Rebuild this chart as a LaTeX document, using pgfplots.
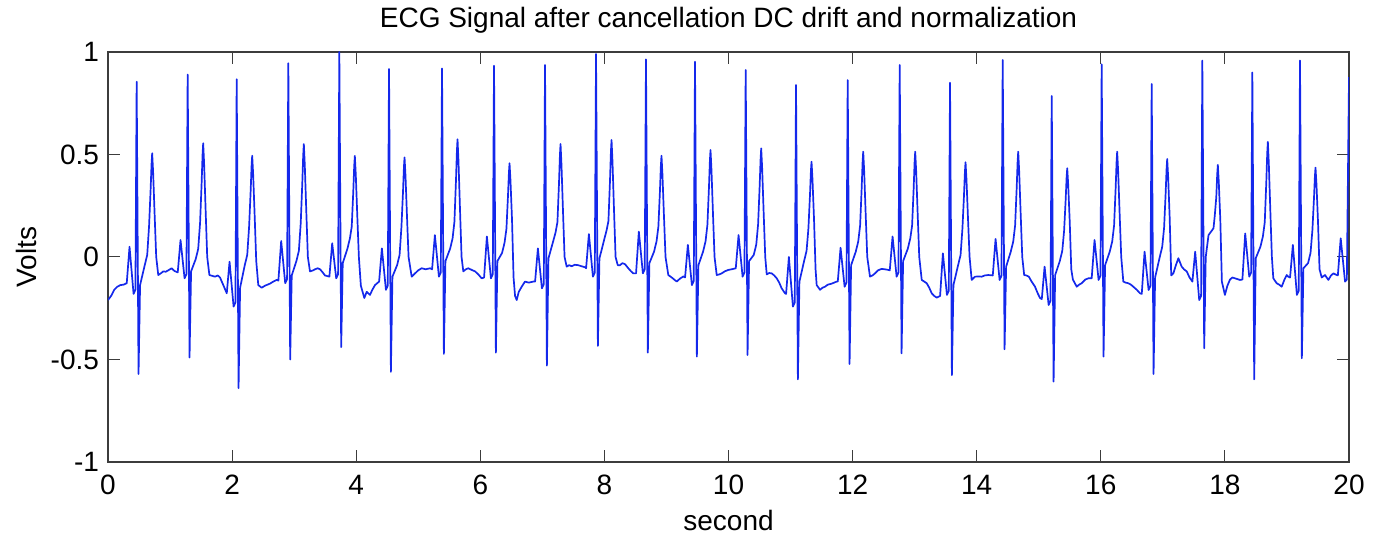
\documentclass[border=0pt]{standalone}
\usepackage{fontspec}
\setmainfont{Liberation Sans}
\usepackage{pgfplots}
\pgfplotsset{compat=1.18}
\definecolor{ecgblue}{RGB}{20,40,235}
\definecolor{axgray}{RGB}{60,60,60}
\begin{document}
\begin{tikzpicture}
\path[use as bounding box] (-54pt,-35.5pt) rectangle (633pt,231pt);
\begin{axis}[
  at={(0,0)}, anchor=south west,
  scale only axis, width=620.5pt, height=205pt,
  xmin=0, xmax=20, ymin=-1, ymax=1,
  xtick={0,2,4,6,8,10,12,14,16,18,20},
  xticklabels={0,2,4,6,8,10,12,14,16,18,20},
  ytick={-1,-0.5,0,0.5,1},
  yticklabels={-1,-0.5,0,0.5,1},
  tick align=inside, major tick length=6pt,
  axis line style={axgray, line width=0.6pt},
  every tick/.style={axgray, line width=0.5pt},
  tick label style={font=\fontsize{14}{16}\selectfont, black},
  xticklabel style={yshift=-3pt},
  yticklabel style={xshift=-1pt},
  every axis title shift=0pt,
  title={ECG Signal after cancellation DC drift and normalization},
  title style={font=\fontsize{14}{16}\selectfont, at={(axis description cs:0.5,1.078)}, anchor=center, yshift=0pt},
  xlabel={second},
  xlabel style={font=\fontsize{14}{16}\selectfont, at={(axis description cs:0.5,-0.1415)}, anchor=center},
  ylabel={Volts},
  ylabel style={font=\fontsize{14}{16}\selectfont, at={(axis description cs:-0.0653,0.5)}, anchor=center},
  clip=true,
]
\addplot[ecgblue, line width=0.85pt, line join=round] coordinates {
(0,-0.21) (0.05,-0.19) (0.1,-0.16) (0.15,-0.145) (0.2,-0.137) (0.25,-0.135) (0.302,-0.128)
(0.347,0.05) (0.412,-0.18) (0.442,-0.16) (0.462,0.855) (0.492,-0.571) (0.517,-0.137) (0.592,-0.04) (0.632,0.01) (0.662,0.152) (0.687,0.329) (0.702,0.455) (0.712,0.506) (0.727,0.415) (0.752,0.202) (0.777,0.0)
(0.81,-0.088) (0.85,-0.08) (0.892,-0.07) (0.93,-0.072) (0.972,-0.065) (1.026,-0.055) (1.07,-0.068) (1.124,-0.075)
(1.169,0.083) (1.234,-0.104) (1.264,-0.084) (1.284,0.89) (1.314,-0.49) (1.339,-0.07) (1.414,-0.01) (1.454,0.04) (1.484,0.167) (1.509,0.361) (1.524,0.5) (1.534,0.555) (1.549,0.455) (1.574,0.222) (1.599,0.0)
(1.634,-0.088) (1.68,-0.092) (1.724,-0.096) (1.77,-0.09) (1.805,-0.1) (1.858,-0.137) (1.914,-0.177)
(1.959,-0.023) (2.024,-0.242) (2.054,-0.222) (2.074,0.867) (2.104,-0.64) (2.129,-0.15) (2.204,-0.04) (2.244,0.01) (2.274,0.148) (2.299,0.321) (2.314,0.445) (2.324,0.494) (2.339,0.405) (2.364,0.198) (2.389,-0.02)
(2.422,-0.137) (2.477,-0.15) (2.53,-0.14) (2.57,-0.135) (2.61,-0.13) (2.664,-0.12) (2.719,-0.112) (2.746,-0.115)
(2.791,0.078) (2.856,-0.128) (2.886,-0.108) (2.906,0.945) (2.936,-0.5) (2.961,-0.09) (3.036,-0.02) (3.076,0.03) (3.106,0.165) (3.131,0.358) (3.146,0.496) (3.156,0.551) (3.171,0.452) (3.196,0.22) (3.221,0.0)
(3.255,-0.07) (3.3,-0.066) (3.336,-0.06) (3.38,-0.055) (3.417,-0.06) (3.46,-0.075) (3.497,-0.09) (3.568,-0.096)
(3.613,0.067) (3.678,-0.104) (3.708,-0.084) (3.728,1.0) (3.758,-0.44) (3.783,-0.03) (3.858,0.04) (3.898,0.09) (3.928,0.148) (3.953,0.32) (3.968,0.444) (3.978,0.493) (3.993,0.404) (4.018,0.197) (4.043,0.0)
(4.075,-0.14) (4.131,-0.2) (4.169,-0.17) (4.222,-0.185) (4.26,-0.16) (4.303,-0.137) (4.369,-0.12)
(4.414,0.042) (4.479,-0.16) (4.509,-0.14) (4.529,0.917) (4.559,-0.56) (4.584,-0.096) (4.659,-0.04) (4.699,0.01) (4.729,0.146) (4.754,0.316) (4.769,0.437) (4.779,0.486) (4.794,0.399) (4.819,0.194) (4.844,0.0)
(4.894,-0.096) (4.948,-0.08) (5.0,-0.065) (5.055,-0.055) (5.12,-0.06) (5.19,-0.055) (5.223,-0.06)
(5.268,0.107) (5.333,-0.096) (5.363,-0.076) (5.383,0.92) (5.413,-0.473) (5.438,-0.02) (5.513,0.04) (5.553,0.09) (5.583,0.172) (5.608,0.373) (5.623,0.517) (5.633,0.574) (5.648,0.471) (5.673,0.23) (5.698,0.0)
(5.726,-0.07) (5.767,-0.06) (5.807,-0.055) (5.861,-0.063) (5.915,-0.07) (5.968,-0.085) (6.022,-0.104) (6.061,-0.1)
(6.106,0.1) (6.171,-0.104) (6.201,-0.084) (6.221,0.933) (6.251,-0.467) (6.276,-0.02) (6.351,0.02) (6.391,0.07) (6.421,0.137) (6.446,0.297) (6.461,0.411) (6.471,0.457) (6.486,0.375) (6.511,0.183) (6.536,-0.1)
(6.56,-0.19) (6.587,-0.21) (6.62,-0.17) (6.667,-0.145) (6.72,-0.12) (6.78,-0.125) (6.854,-0.12) (6.883,-0.12)
(6.928,0.042) (6.993,-0.153) (7.023,-0.133) (7.043,0.937) (7.073,-0.53) (7.098,-0.007) (7.173,0.075) (7.213,0.12) (7.243,0.17) (7.268,0.358) (7.283,0.496) (7.293,0.551) (7.308,0.452) (7.333,0.22) (7.358,0.0)
(7.392,-0.047) (7.43,-0.04) (7.473,-0.045) (7.52,-0.038) (7.58,-0.04) (7.63,-0.045) (7.687,-0.05) (7.705,-0.055)
(7.75,0.112) (7.815,-0.096) (7.845,-0.076) (7.865,0.99) (7.895,-0.434) (7.92,-0.007) (7.995,0.083) (8.035,0.13) (8.065,0.175) (8.09,0.371) (8.105,0.514) (8.115,0.571) (8.13,0.468) (8.155,0.228) (8.18,0.0)
(8.215,-0.04) (8.251,-0.04) (8.29,-0.03) (8.332,-0.035) (8.385,-0.055) (8.43,-0.07) (8.466,-0.08) (8.51,-0.08)
(8.555,0.124) (8.62,-0.08) (8.65,-0.06) (8.67,0.964) (8.7,-0.467) (8.725,-0.03) (8.8,0.026) (8.84,0.076) (8.87,0.148) (8.895,0.321) (8.91,0.445) (8.92,0.494) (8.935,0.405) (8.96,0.198) (8.985,0.0)
(9.03,-0.088) (9.085,-0.1) (9.125,-0.11) (9.165,-0.12) (9.22,-0.105) (9.272,-0.095) (9.3,-0.1)
(9.345,0.059) (9.41,-0.137) (9.44,-0.117) (9.46,0.953) (9.49,-0.486) (9.515,-0.04) (9.59,0.026) (9.63,0.076) (9.66,0.157) (9.685,0.339) (9.7,0.47) (9.71,0.522) (9.725,0.428) (9.75,0.209) (9.775,0.0)
(9.81,-0.088) (9.85,-0.085) (9.89,-0.08) (9.94,-0.07) (9.997,-0.063) (10.05,-0.06) (10.117,-0.055)
(10.162,0.107) (10.227,-0.096) (10.257,-0.076) (10.277,0.912) (10.307,-0.478) (10.332,-0.02) (10.407,0.01) (10.447,0.06) (10.477,0.159) (10.502,0.345) (10.517,0.477) (10.527,0.53) (10.542,0.435) (10.567,0.212) (10.592,0.0)
(10.616,-0.085) (10.656,-0.078) (10.696,-0.08) (10.737,-0.09) (10.777,-0.104) (10.817,-0.125) (10.857,-0.153) (10.91,-0.177) (10.928,-0.18)
(10.973,0.0) (11.038,-0.242) (11.068,-0.222) (11.088,0.839) (11.118,-0.597) (11.143,-0.12) (11.218,-0.02) (11.258,0.03) (11.288,0.14) (11.313,0.302) (11.328,0.419) (11.338,0.465) (11.353,0.381) (11.378,0.186) (11.403,-0.06)
(11.421,-0.137) (11.475,-0.16) (11.515,-0.15) (11.555,-0.145) (11.6,-0.135) (11.663,-0.13) (11.743,-0.12) (11.761,-0.12)
(11.806,0.045) (11.871,-0.145) (11.901,-0.125) (11.921,0.863) (11.951,-0.522) (11.976,-0.04) (12.051,0.026) (12.091,0.076) (12.121,0.154) (12.146,0.334) (12.161,0.463) (12.171,0.514) (12.186,0.421) (12.211,0.206) (12.236,0.0)
(12.28,-0.096) (12.32,-0.09) (12.361,-0.08) (12.41,-0.065) (12.469,-0.058) (12.52,-0.06) (12.575,-0.063) (12.599,-0.065)
(12.644,0.1) (12.709,-0.096) (12.739,-0.076) (12.759,0.937) (12.789,-0.47) (12.814,-0.02) (12.889,0.04) (12.929,0.09) (12.959,0.154) (12.984,0.334) (12.999,0.463) (13.009,0.514) (13.024,0.421) (13.049,0.206) (13.074,0.0)
(13.114,-0.112) (13.155,-0.12) (13.194,-0.128) (13.235,-0.15) (13.275,-0.177) (13.315,-0.19) (13.355,-0.198) (13.41,-0.19)
(13.455,0.018) (13.52,-0.185) (13.55,-0.165) (13.57,0.85) (13.6,-0.576) (13.625,-0.137) (13.7,-0.04) (13.74,0.01) (13.77,0.139) (13.795,0.3) (13.81,0.416) (13.82,0.462) (13.835,0.379) (13.86,0.185) (13.885,0.0)
(13.919,-0.112) (13.973,-0.096) (14.03,-0.095) (14.08,-0.096) (14.13,-0.09) (14.187,-0.088) (14.259,-0.09)
(14.304,0.088) (14.369,-0.112) (14.399,-0.092) (14.419,0.961) (14.449,-0.45) (14.474,-0.047) (14.549,0.026) (14.589,0.076) (14.619,0.154) (14.644,0.334) (14.659,0.463) (14.669,0.514) (14.684,0.421) (14.709,0.206) (14.734,0.0)
(14.765,-0.088) (14.8,-0.09) (14.84,-0.096) (14.885,-0.12) (14.94,-0.145) (14.98,-0.175) (15.02,-0.2) (15.049,-0.205)
(15.094,-0.047) (15.159,-0.234) (15.189,-0.214) (15.209,0.785) (15.239,-0.608) (15.264,-0.088) (15.339,-0.02) (15.379,0.03) (15.409,0.13) (15.434,0.281) (15.449,0.39) (15.459,0.433) (15.474,0.355) (15.499,0.173) (15.524,-0.06)
(15.55,-0.11) (15.612,-0.145) (15.65,-0.135) (15.692,-0.128) (15.75,-0.11) (15.8,-0.104) (15.853,-0.104)
(15.899,0.083) (15.964,-0.112) (15.994,-0.092) (16.014,0.94) (16.044,-0.486) (16.069,-0.04) (16.144,0.026) (16.184,0.076) (16.214,0.154) (16.239,0.334) (16.254,0.463) (16.264,0.514) (16.279,0.421) (16.304,0.206) (16.329,0.0)
(16.363,-0.12) (16.4,-0.125) (16.443,-0.128) (16.485,-0.135) (16.524,-0.145) (16.58,-0.16) (16.631,-0.177) (16.66,-0.18)
(16.705,0.026) (16.77,-0.161) (16.8,-0.141) (16.82,0.844) (16.85,-0.571) (16.875,-0.1) (16.95,0.0) (16.99,0.05) (17.02,0.143) (17.045,0.311) (17.06,0.43) (17.07,0.478) (17.085,0.392) (17.11,0.191) (17.135,-0.09)
(17.169,-0.08) (17.21,-0.04) (17.25,-0.006) (17.303,-0.047) (17.34,-0.06) (17.384,-0.07) (17.43,-0.1) (17.476,-0.12)
(17.521,0.026) (17.586,-0.21) (17.616,-0.19) (17.636,0.958) (17.666,-0.445) (17.691,0.0) (17.736,0.107) (17.78,0.125) (17.816,0.14) (17.836,0.2) (17.861,0.292) (17.876,0.404) (17.886,0.449) (17.901,0.368) (17.926,0.18) (17.951,-0.12)
(18.0,-0.185) (18.04,-0.14) (18.082,-0.11) (18.12,-0.1) (18.162,-0.104) (18.243,-0.112) (18.282,-0.11)
(18.327,0.115) (18.392,-0.096) (18.422,-0.076) (18.442,0.9) (18.472,-0.597) (18.497,-0.006) (18.572,0.05) (18.612,0.1) (18.642,0.169) (18.667,0.365) (18.682,0.506) (18.692,0.562) (18.707,0.461) (18.732,0.225) (18.757,0.0)
(18.78,-0.104) (18.834,-0.128) (18.875,-0.135) (18.915,-0.145) (18.96,-0.11) (18.996,-0.088) (19.02,-0.096) (19.05,-0.1)
(19.095,0.059) (19.16,-0.185) (19.19,-0.165) (19.21,0.958) (19.24,-0.494) (19.265,-0.055) (19.34,-0.03) (19.38,0.02) (19.41,0.131) (19.435,0.283) (19.45,0.392) (19.46,0.436) (19.475,0.358) (19.5,0.174) (19.525,-0.06)
(19.56,-0.1) (19.613,-0.088) (19.64,-0.1) (19.667,-0.112) (19.71,-0.09) (19.748,-0.08) (19.802,-0.088) (19.82,-0.09)
(19.866,0.091) (19.936,-0.12) (19.965,-0.11) (20,0.877)
};
\end{axis}
\end{tikzpicture}
\end{document}
